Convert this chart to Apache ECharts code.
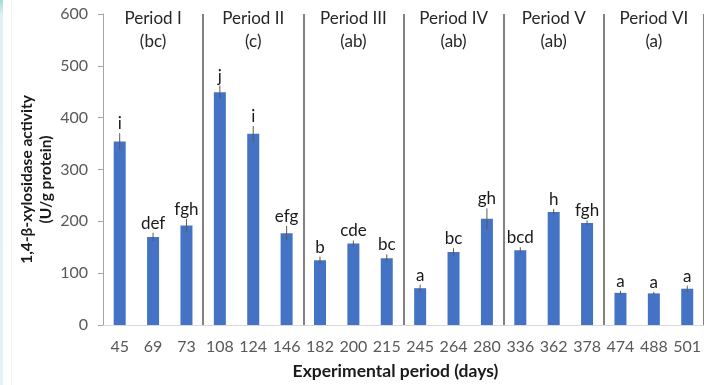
<!DOCTYPE html>
<html>
<head>
<meta charset="utf-8">
<style>
  html, body { margin: 0; padding: 0; background: #ffffff; }
  #chart { width: 704px; height: 385px; }
</style>
<script src="https://cdn.jsdelivr.net/npm/echarts@6/dist/echarts.min.js"></script>
</head>
<body>
<div id="chart"></div>
<script>
// Sampling days (x categories)
const days = ['45', '69', '73', '108', '124', '146', '182', '200', '215',
              '245', '264', '280', '336', '362', '378', '474', '488', '501'];
// Mean 1,4-β-xylosidase activity (U/g protein)
const activity = [354, 170, 192, 449, 369, 177, 125, 157, 129,
                  71, 141, 205, 144, 218, 197, 62, 61, 70];
// Standard error of each mean
const stdErr = [16, 8, 13, 13, 15, 14, 7, 6, 7,
                7, 7, 20, 6, 6, 5, 4, 3, 6];
// Significance letters for each sampling day
const letters = ['i', 'def', 'fgh', 'j', 'i', 'efg', 'b', 'cde', 'bc',
                 'a', 'bc', 'gh', 'bcd', 'h', 'fgh', 'a', 'a', 'a'];
// Periods and their group letters
const periods = ['Period I', 'Period II', 'Period III', 'Period IV', 'Period V', 'Period VI'];
const periodGroups = ['(bc)', '(c)', '(ab)', '(ab)', '(ab)', '(a)'];
// Y axis range
const yMin = 0, yMax = 600, yStep = 100;

const FONT = 'Lato, "Open Sans", sans-serif';
const chart = echarts.init(document.getElementById('chart'), null, { renderer: 'canvas' });

const errorData = activity.map((v, i) => [i, v, stdErr[i]]);

chart.setOption({
  backgroundColor: '#ffffff',
  animation: false,
  graphic: [
    {
      type: 'rect', left: 0, top: 0, z: -1,
      shape: { width: 3, height: 385 },
      style: {
        fill: new echarts.graphic.LinearGradient(0, 0, 0, 1, [
          { offset: 0, color: '#a6dada' },
          { offset: 0.04, color: '#dff1f3' },
          { offset: 1, color: '#e3f2f5' }
        ])
      }
    },
    {
      type: 'line', z: -1,
      shape: { x1: 11.5, y1: 0, x2: 11.5, y2: 385 },
      style: { stroke: '#f2f4f5', lineWidth: 1 }
    }
  ],
  grid: { left: 103, top: 14, width: 606, height: 314 },
  xAxis: [
    {
      type: 'category',
      data: days,
      position: 'bottom',
      axisLine: { show: true, lineStyle: { color: '#d9d9d9', width: 1 } },
      axisTick: { show: false },
      axisLabel: { color: '#595959', fontFamily: FONT, fontSize: 16, margin: 14, interval: 0 },
      splitLine: {
        show: true,
        interval: (index) => index > 0 && index % 3 === 0,
        lineStyle: { color: '#595959', width: 1.5 }
      },
      name: 'Experimental period (days)',
      nameLocation: 'middle',
      nameGap: 37,
      nameMoveOverlap: false,
      nameTextStyle: {
        color: '#1a1a1a', fontFamily: FONT, fontSize: 17.5, fontWeight: 'bold',
        padding: [0, 16, 0, 0]
      }
    },
    {
      type: 'category',
      data: periods.map((p, i) => p + '\n' + periodGroups[i]),
      position: 'top',
      axisLine: { show: false },
      axisTick: { show: false },
      splitLine: { show: false },
      axisLabel: {
        inside: true, interval: 0, margin: -7,
        color: '#262626', fontFamily: FONT, fontSize: 17, lineHeight: 23
      }
    }
  ],
  yAxis: {
    type: 'value',
    min: yMin, max: yMax, interval: yStep,
    axisLine: { show: true, lineStyle: { color: '#a6a6a6', width: 1 } },
    axisTick: { show: true, inside: false, length: 5, lineStyle: { color: '#a6a6a6' } },
    axisLabel: { color: '#595959', fontFamily: FONT, fontSize: 16, margin: 15 },
    splitLine: { show: false },
    name: '1,4-β-xylosidase activity\n(U/g protein)',
    nameLocation: 'middle',
    nameGap: 48,
    nameRotate: 90,
    nameMoveOverlap: false,
    nameTextStyle: {
      color: '#1a1a1a', fontFamily: FONT, fontSize: 15.5, fontWeight: 'bold',
      lineHeight: 19, padding: [0, 20, 0, 0]
    }
  },
  series: [
    {
      type: 'bar',
      data: activity,
      barWidth: 12,
      itemStyle: { color: '#4472c4' },
      z: 2
    },
    {
      type: 'custom',
      data: errorData,
      z: 3,
      renderItem: (params, api) => {
        const x = api.value(0);
        const v = api.value(1);
        const e = api.value(2);
        const top = api.coord([x, v + e]);
        const bot = api.coord([x, v - e]);
        return {
          type: 'group',
          children: [
            {
              type: 'line',
              shape: { x1: top[0], y1: top[1], x2: bot[0], y2: bot[1] },
              style: { stroke: '#595959', lineWidth: 1 }
            },
            {
              type: 'text',
              style: {
                x: top[0], y: top[1] - 1,
                text: letters[params.dataIndex],
                textAlign: 'center', textVerticalAlign: 'bottom',
                fill: '#1a1a1a', font: '17px ' + FONT
              }
            }
          ]
        };
      }
    }
  ]
});
</script>
</body>
</html>
